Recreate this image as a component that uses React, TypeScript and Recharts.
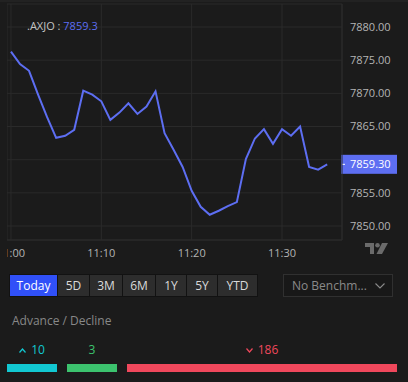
import React from 'react';
import { LineChart, Line, XAxis, YAxis, CartesianGrid, ReferenceLine } from 'recharts';

const times = [
  '11:00', '11:01', '11:02', '11:03', '11:04', '11:05', '11:06', '11:07', '11:08', '11:09',
  '11:10', '11:11', '11:12', '11:13', '11:14', '11:15', '11:16', '11:17', '11:18', '11:19',
  '11:20', '11:21', '11:22', '11:23', '11:24', '11:25', '11:26', '11:27', '11:28', '11:29',
  '11:30', '11:31', '11:32', '11:33', '11:34', '11:35',
];
const prices = [
  7876.3, 7874.4, 7873.4, 7869.8, 7866.4, 7863.3, 7863.6, 7864.5, 7870.4, 7869.8,
  7868.8, 7866.0, 7867.1, 7868.5, 7866.9, 7868.0, 7870.3, 7864.0, 7861.5, 7858.9,
  7855.3, 7852.9, 7851.7, 7852.3, 7853.0, 7853.6, 7860.1, 7863.2, 7864.6, 7862.4,
  7864.6, 7863.6, 7865.0, 7858.9, 7858.5, 7859.3,
];
const timeTicks = [0, 10, 20, 30];
const priceTicks = [7850, 7855, 7860, 7865, 7870, 7875, 7880];
const ranges = ['Today', '5D', '3M', '6M', '1Y', '5Y', 'YTD'];
const advDecLabels = ['up', 'flat', 'down'];
const advDecCounts = [10, 3, 186];

const BG = '#1b1b1b';
const GRID = '#2a2a2a';
const LINE = '#5d6ef2';
const FONT = '"Open Sans", sans-serif';

const data = times.map((t, i) => ({
  m: parseInt(t.split(':')[1], 10),
  price: prices[i],
}));
const last = prices[prices.length - 1];

// price ticks that sit under the last-price tag are hidden, as in the reference
const PriceTick = (props: any) => {
  const { x, y, payload } = props;
  if (Math.abs(payload.value - last) < 2) return <g />;
  return (
    <text x={x} y={y} dy="0.36em" fill="#b4b4b4" fontSize={11} fontFamily={FONT} textAnchor="start">
      {payload.value.toFixed(2)}
    </text>
  );
};

const PriceTag = (props: any) => {
  const { viewBox } = props;
  const x = viewBox.x + viewBox.width;
  const y = viewBox.y;
  return (
    <g>
      <rect x={x - 1} y={y - 9.5} width={56} height={19} fill={LINE} />
      <line x1={x} x2={x + 3} y1={y} y2={y} stroke="#fff" strokeWidth={1} />
      <text x={x + 8} y={y} dy="0.36em" fill="#fff" fontSize={11} fontFamily={FONT}>
        {last.toFixed(2)}
      </text>
    </g>
  );
};

const Chevron = ({ dir, color }: { dir: 'up' | 'down'; color: string }) => (
  <svg width={7} height={5} style={{ marginRight: 5, verticalAlign: 'middle' }}>
    <polyline
      points={dir === 'up' ? '0.5,4.5 3.5,1 6.5,4.5' : '0.5,0.5 3.5,4 6.5,0.5'}
      fill="none"
      stroke={color}
      strokeWidth={1.2}
    />
  </svg>
);

const advColors = ['#12c8d2', '#3cc36e', '#f0485c'];
const barLefts = [7, 67, 127];
const barWidths = [50, 50, 270];

export default function App() {
  return (
    <div
      style={{
        position: 'absolute',
        left: 0,
        top: 0,
        width: 408,
        height: 382,
        background: BG,
        fontFamily: FONT,
        overflow: 'hidden',
      }}
    >
      <div style={{ position: 'absolute', left: 0, top: 0, width: 408, height: 2, background: '#222' }} />
      <div style={{ position: 'absolute', left: 7, top: 0 }}>
        <LineChart width={401} height={262} data={data} margin={{ top: 4, right: 0, bottom: 0, left: 0 }}>
          <CartesianGrid stroke={GRID} strokeWidth={1} />
          <XAxis
            dataKey="m"
            type="number"
            domain={[-0.44, 36.64]}
            ticks={timeTicks}
            interval={0}
            tickFormatter={(v: number) => times[v]}
            height={22}
            tickLine={false}
            axisLine={{ stroke: GRID }}
            tickMargin={3}
            tick={{ fill: '#b4b4b4', fontSize: 11, fontFamily: FONT }}
            allowDataOverflow
          />
          <YAxis
            orientation="right"
            type="number"
            domain={[7847.89, 7883.47]}
            ticks={priceTicks}
            interval={0}
            width={66}
            tickLine={false}
            axisLine={{ stroke: GRID }}
            tick={<PriceTick />}
            allowDataOverflow
          />
          <Line
            type="linear"
            dataKey="price"
            stroke={LINE}
            strokeWidth={2}
            dot={false}
            isAnimationActive={false}
          />
          <ReferenceLine y={last} stroke="none" label={<PriceTag />} />
        </LineChart>
      </div>

      <div style={{ position: 'absolute', left: 27, top: 18, fontSize: 11, color: '#c4c4c4', whiteSpace: 'nowrap' }}>
        .AXJO : <span style={{ color: LINE }}>{last.toFixed(1)}</span>
      </div>

      <svg style={{ position: 'absolute', left: 365, top: 243 }} width={23} height={11}>
        <polygon points="0,0 9,0 9,11 5,11 5,4 0,4" fill="#6b6b6b" />
        <circle cx={12.5} cy={2.3} r={2.3} fill="#6b6b6b" />
        <polygon points="17,0 23,0 17,11 11.5,11" fill="#6b6b6b" />
      </svg>

      <div
        style={{
          position: 'absolute',
          left: 9,
          top: 274,
          display: 'flex',
          gap: 1,
          background: '#121212',
          padding: 1,
        }}
      >
        {ranges.map((r, i) => (
          <div
            key={r}
            style={{
              width: [47, 31, 32, 32, 30, 30, 39][i],
              height: 21,
              background: i === 0 ? '#3050f8' : '#2d2d2d',
              color: i === 0 ? '#fff' : '#dadada',
              fontSize: 12,
              lineHeight: '21px',
              textAlign: 'center',
            }}
          >
            {r}
          </div>
        ))}
      </div>

      <div
        style={{
          position: 'absolute',
          left: 283,
          top: 274,
          width: 100,
          height: 21,
          border: '1px solid #303030',
          background: '#181818',
          color: '#8a8a8a',
          fontSize: 12,
          lineHeight: '21px',
          paddingLeft: 8,
          boxSizing: 'content-box',
        }}
      >
        No Benchm...
        <svg style={{ position: 'absolute', left: 91, top: 8 }} width={10} height={6}>
          <polyline points="0.5,0.5 5,5 9.5,0.5" fill="none" stroke="#8a8a8a" strokeWidth={1.1} />
        </svg>
      </div>

      <div style={{ position: 'absolute', left: 12, top: 312, fontSize: 12, color: '#888' }}>
        Advance / Decline
      </div>

      {advDecCounts.map((c, i) => (
        <React.Fragment key={advDecLabels[i]}>
          <div
            style={{
              position: 'absolute',
              left: barLefts[i],
              width: barWidths[i],
              top: 342,
              textAlign: 'center',
              fontSize: 12,
              color: advColors[i],
              lineHeight: '16px',
            }}
          >
            {advDecLabels[i] === 'up' && <Chevron dir="up" color={advColors[i]} />}
            {advDecLabels[i] === 'down' && <Chevron dir="down" color={advColors[i]} />}
            {c}
          </div>
          <div
            style={{
              position: 'absolute',
              left: barLefts[i],
              width: barWidths[i],
              top: 364,
              height: 8,
              background: advColors[i],
            }}
          />
        </React.Fragment>
      ))}
    </div>
  );
}
